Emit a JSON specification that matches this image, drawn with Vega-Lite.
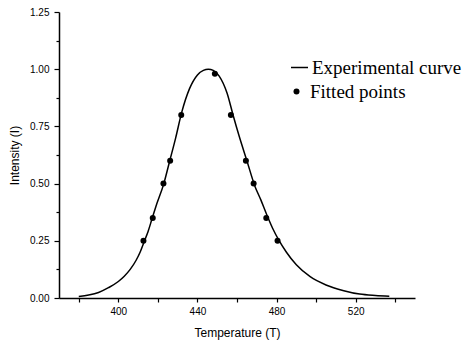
{
  "$schema": "https://vega.github.io/schema/vega-lite/v6.json",
  "width": 356,
  "height": 286,
  "autosize": {"type": "none"},
  "padding": {"left": 59, "top": 12, "right": 48, "bottom": 45},
  "background": "white",
  "config": {
    "view": {"stroke": null},
    "axis": {
      "domainColor": "black", "domainWidth": 1.5, "tickColor": "black", "tickWidth": 1.2,
      "labelFont": "Liberation Sans", "labelFontSize": 10, "labelColor": "black",
      "titleFont": "Liberation Sans", "titleFontSize": 12, "titleFontWeight": "normal", "titleColor": "black",
      "grid": false
    },
    "legend": {"labelFont": "Liberation Serif", "labelFontSize": 19, "labelColor": "black", "padding": 0}
  },
  "datasets": {
    "curve": [
      {"T": 380, "I": 0.007}, {"T": 385, "I": 0.013}, {"T": 390, "I": 0.024}, {"T": 395, "I": 0.045},
      {"T": 400, "I": 0.072}, {"T": 403, "I": 0.095}, {"T": 406, "I": 0.125}, {"T": 409, "I": 0.165},
      {"T": 411, "I": 0.2}, {"T": 413, "I": 0.245}, {"T": 415, "I": 0.29},
      {"T": 417, "I": 0.345}, {"T": 419, "I": 0.4}, {"T": 423, "I": 0.5}, {"T": 426, "I": 0.6},
      {"T": 429, "I": 0.7}, {"T": 432, "I": 0.81}, {"T": 436, "I": 0.915}, {"T": 440, "I": 0.975},
      {"T": 443, "I": 0.995}, {"T": 445.5, "I": 1.0}, {"T": 448, "I": 0.995}, {"T": 451, "I": 0.97},
      {"T": 455, "I": 0.895}, {"T": 458, "I": 0.8}, {"T": 461, "I": 0.71}, {"T": 465, "I": 0.6},
      {"T": 469, "I": 0.49}, {"T": 472, "I": 0.43}, {"T": 475, "I": 0.365}, {"T": 478, "I": 0.305},
      {"T": 481, "I": 0.255}, {"T": 485, "I": 0.2}, {"T": 490, "I": 0.145}, {"T": 497, "I": 0.093},
      {"T": 505, "I": 0.057}, {"T": 514, "I": 0.032}, {"T": 522, "I": 0.017}, {"T": 530, "I": 0.011},
      {"T": 537, "I": 0.008}
    ],
    "points": [
      {"T": 412.7, "I": 0.25}, {"T": 417.4, "I": 0.35}, {"T": 422.8, "I": 0.5}, {"T": 426.2, "I": 0.6},
      {"T": 431.8, "I": 0.8}, {"T": 448.8, "I": 0.98}, {"T": 456.9, "I": 0.8}, {"T": 464.5, "I": 0.6},
      {"T": 468.4, "I": 0.5}, {"T": 474.8, "I": 0.35}, {"T": 480.5, "I": 0.25}
    ]
  },
  "encoding": {
    "x": {
      "field": "T", "type": "quantitative",
      "scale": {"domain": [370, 550], "nice": false, "zero": false},
      "axis": {
        "title": "Temperature (T)",
        "values": [380, 400, 420, 440, 460, 480, 500, 520, 540],
        "labelExpr": "datum.value % 40 === 0 ? datum.label : ''",
        "tickSize": 4, "labelPadding": 4, "titlePadding": 11
      }
    },
    "y": {
      "field": "I", "type": "quantitative",
      "scale": {"domain": [0, 1.25], "nice": false},
      "axis": {
        "title": "Intensity (I)",
        "values": [0, 0.125, 0.25, 0.375, 0.5, 0.625, 0.75, 0.875, 1, 1.125, 1.25],
        "labelExpr": "datum.value % 0.25 === 0 ? format(datum.value, '.2f') : ''",
        "tickSize": {"condition": {"test": "datum.value % 0.25 === 0", "value": 5}, "value": 3},
        "labelPadding": 5, "titlePadding": 8
      }
    }
  },
  "layer": [
    {
      "data": {"name": "curve"},
      "mark": {"type": "line", "interpolate": "monotone", "strokeWidth": 1.5},
      "encoding": {
        "color": {
          "datum": "Experimental curve",
          "scale": {"range": ["black"]},
          "legend": {"title": null, "orient": "none", "legendX": 231, "legendY": 46, "symbolType": "stroke", "symbolSize": 289, "symbolStrokeWidth": 1.5, "labelOffset": 3}
        }
      }
    },
    {
      "data": {"name": "points"},
      "mark": {"type": "point", "filled": true, "color": "black", "opacity": 1, "size": 36},
      "encoding": {
        "shape": {
          "datum": "Fitted points",
          "scale": {"range": ["circle"]},
          "legend": {"title": null, "orient": "none", "legendX": 228, "legendY": 70, "symbolSize": 36, "symbolFillColor": "black", "symbolStrokeColor": "black", "symbolOpacity": 1, "labelOffset": 4}
        }
      }
    }
  ]
}
